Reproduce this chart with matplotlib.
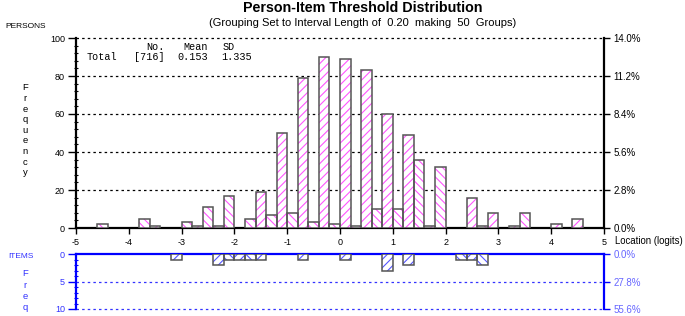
import numpy as np
import matplotlib.pyplot as plt
from matplotlib.ticker import MultipleLocator

plt.rcParams['font.family'] = ['Liberation Sans', 'DejaVu Sans']
plt.rcParams['hatch.linewidth'] = 0.8
plt.rcParams['axes.unicode_minus'] = False

# grouping: 50 groups of 0.20 logits from -5 to 5
bin_start = -5.0
bin_width = 0.20
n_groups = 50

# person threshold counts per group (left to right)
person_counts = [0, 0, 2, 0, 0, 0, 5, 1, 0, 0,
                 3, 1, 11, 1, 17, 0, 5, 19, 7, 50,
                 8, 79, 3, 90, 2, 89, 1, 83, 10, 60,
                 10, 49, 36, 1, 32, 0, 0, 16, 1, 8,
                 0, 1, 8, 0, 0, 2, 0, 5, 0, 0]
# item threshold counts per group
item_counts = [0, 0, 0, 0, 0, 0, 0, 0, 0, 1,
               0, 0, 0, 2, 1, 1, 1, 1, 0, 0,
               0, 1, 0, 0, 0, 1, 0, 0, 0, 3,
               0, 2, 0, 0, 0, 0, 1, 1, 2, 0,
               0, 0, 0, 0, 0, 0, 0, 0, 0, 0]

stats_header = ['No.', 'Mean', 'SD']
stats_total = ['[716]', '0.153', '1.335']

W, H = 685, 316
def fx(x): return x / W
def fy(y): return 1 - y / H

person_counts = np.array(person_counts)
item_counts = np.array(item_counts)
edges = bin_start + bin_width * np.arange(n_groups)
hatches = ['\\\\\\\\' if i % 2 == 0 else '////' for i in range(n_groups)]
n_persons = person_counts.sum()
n_items = item_counts.sum()

fig = plt.figure(figsize=(6.85, 3.16), dpi=100)
ax = fig.add_axes([fx(76), fy(228), fx(604) - fx(76), fy(38) - fy(228)])
ax2 = fig.add_axes([fx(76), fy(309), fx(604) - fx(76), fy(254) - fy(309)])

# ---------------- persons ----------------
for i in range(n_groups):
    if person_counts[i] == 0:
        continue
    ax.bar(edges[i], person_counts[i], width=bin_width, align='edge', facecolor='white',
           edgecolor='#ff55ff', hatch=hatches[i], linewidth=0, zorder=3)
    ax.bar(edges[i], person_counts[i], width=bin_width, align='edge', facecolor='none',
           edgecolor='#555555', linewidth=1.1, zorder=4)

ax.set_xlim(-5, 5)
ax.set_ylim(0, 100)
ax.set_xticks(np.arange(-5, 6, 1))
ax.set_yticks([0, 20, 40, 60, 80, 100])
ax.yaxis.set_minor_locator(MultipleLocator(4))
for v in [20, 40, 60, 80, 100]:
    ax.axhline(v, color='black', lw=0.9, ls=(0, (2, 2.5)), zorder=1, clip_on=False)
ax.spines['top'].set_visible(False)
for s in ['left', 'right', 'bottom']:
    ax.spines[s].set_linewidth(1.6)
ax.tick_params(axis='y', which='major', direction='out', length=6, width=1, labelsize=6.5, pad=2)
ax.tick_params(axis='y', which='minor', direction='inout', length=3.5, width=0.8)
ax.tick_params(axis='x', direction='out', length=4, width=1, labelsize=6.5, pad=3)

axr = ax.twinx()
axr.set_ylim(0, 100)
axr.set_yticks([0, 20, 40, 60, 80, 100])
axr.set_yticklabels([f'{v / n_persons * 100:.1f}%' for v in [0, 20, 40, 60, 80, 100]])
axr.tick_params(axis='y', direction='out', length=4, width=1, labelsize=7, pad=3)
for s in axr.spines.values():
    s.set_visible(False)

# ---------------- items ----------------
for i in range(n_groups):
    if item_counts[i] == 0:
        continue
    ax2.bar(edges[i], item_counts[i], width=bin_width, align='edge', facecolor='white',
            edgecolor='#5555ff', hatch=hatches[i], linewidth=0, zorder=3)
    ax2.bar(edges[i], item_counts[i], width=bin_width, align='edge', facecolor='none',
            edgecolor='#555555', linewidth=1.1, zorder=4)

ax2.set_xlim(-5, 5)
ax2.set_ylim(10, 0)
ax2.set_yticks([0, 5, 10])
ax2.yaxis.set_minor_locator(MultipleLocator(1))
ax2.set_xticks([])
for v in [5, 10]:
    ax2.axhline(v, color='#3333ff', lw=0.9, ls=(0, (2, 2.5)), zorder=1, clip_on=False)
ax2.spines['bottom'].set_visible(False)
for s in ['left', 'right', 'top']:
    ax2.spines[s].set_linewidth(1.6)
    ax2.spines[s].set_color('#0000ff')
ax2.tick_params(axis='y', which='major', direction='out', length=6, width=1, labelsize=6.5,
                pad=2, color='#0000ff', labelcolor='#3333ff')
ax2.tick_params(axis='y', which='minor', direction='inout', length=3.5, width=0.8, color='#0000ff')

ax2r = ax2.twinx()
ax2r.set_ylim(10, 0)
ax2r.set_yticks([0, 5, 10])
ax2r.set_yticklabels([f'{v / n_items * 100:.1f}%' for v in [0, 5, 10]])
ax2r.tick_params(axis='y', direction='out', length=4, width=1, labelsize=7, pad=3,
                 color='#0000ff', labelcolor='#6666ff')
for s in ax2r.spines.values():
    s.set_visible(False)

# ---------------- text ----------------
fig.text(fx(363), fy(8), 'Person-Item Threshold Distribution', ha='center', va='center',
         fontsize=10.3, fontweight='bold')
fig.text(fx(363), fy(23), '(Grouping Set to Interval Length of  0.20  making  50  Groups)',
         ha='center', va='center', fontsize=8)
fig.text(fx(5), fy(27), 'PERSONS', ha='left', va='center', fontsize=6)
fig.text(fx(8), fy(256), 'ITEMS', ha='left', va='center', fontsize=6, color='#3333ff')
fig.text(fx(615), fy(241), 'Location (logits)', ha='left', va='center', fontsize=6.9)

for i, ch in enumerate('Frequency'):
    fig.text(fx(25), fy(88 + i * 10.6), ch, ha='center', va='center', fontsize=6.8)
for i, ch in enumerate('Freq'):
    fig.text(fx(25), fy(274 + i * 11.2), ch, ha='center', va='center', fontsize=6.8,
             color='#3333ff')

mono = dict(family=['Liberation Mono', 'DejaVu Sans Mono'], fontsize=7.3, va='center')
for x, t in zip([165, 208, 235], stats_header):
    fig.text(fx(x), fy(47), t, ha='right', **mono)
fig.text(fx(87), fy(57), 'Total', ha='left', **mono)
for x, t in zip([165, 208, 252], stats_total):
    fig.text(fx(x), fy(57), t, ha='right', **mono)

fig.savefig('out.png', dpi=100)
